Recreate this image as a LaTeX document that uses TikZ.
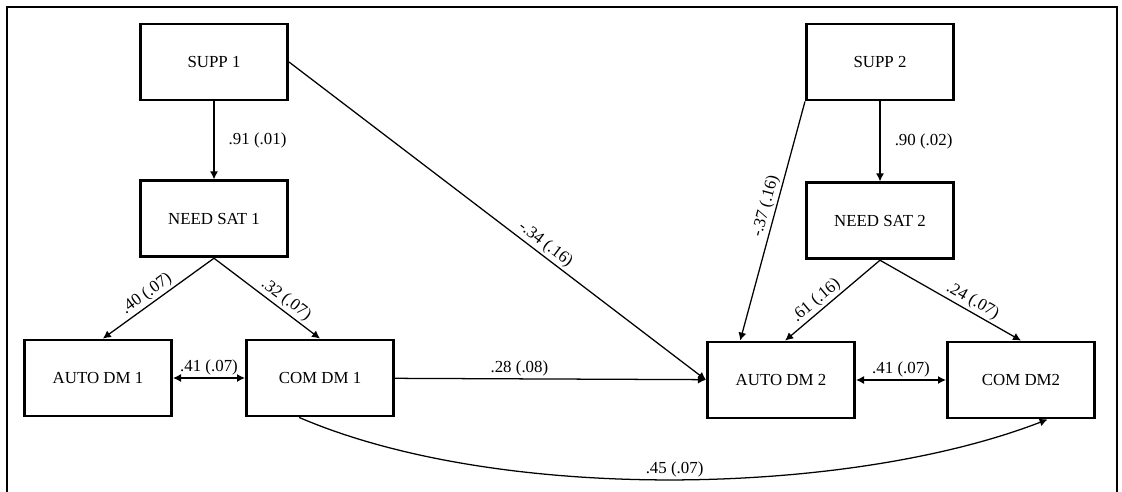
\documentclass[tikz,border=0pt]{standalone}
\usepackage{fontspec}
\setmainfont{Liberation Serif}
\usepackage{tikz}
\usetikzlibrary{arrows.meta, positioning}

\begin{document}
\begin{tikzpicture}[
  font=\fontsize{12}{14}\selectfont,
  box/.style={draw, line width=2pt, minimum width=3.68cm, minimum height=1.9cm,
              align=center, inner sep=3pt},
  arr/.style={-{Latex[length=2mm, width=2mm]}, line width=0.9pt},
  both/.style={{Latex[length=2mm, width=2mm]}-{Latex[length=2mm, width=2mm]}, line width=0.9pt},
  lab/.style={inner sep=1.5pt}
]
\useasboundingbox (0,0) rectangle (28.05,-12.3);
\draw[line width=1.3pt] (0.175,-12.3) |- (27.925,-0.175) -- (27.925,-12.3);

% time 1
\node[box] (supp1) at (5.35,-1.55) {SUPP 1};
\node[box, below=1.95cm of supp1] (need1) {NEED SAT 1};
\node[box] (auto1) at (2.45,-9.45) {AUTO DM 1};
\node[box, right=1.8cm of auto1] (com1) {COM DM 1};

% time 2
\node[box] (supp2) at (22.0,-1.55) {SUPP 2};
\node[box, below=2.0cm of supp2] (need2) {NEED SAT 2};
\node[box] (auto2) at (19.525,-9.5) {AUTO DM 2};
\node[box, right=2.25cm of auto2] (com2) {COM DM2};

\draw[arr] (supp1) -- node[lab, right=3mm] {.91 (.01)} (need1);
\draw[arr] (need1.south) -- node[lab, pos=0.55, above, sloped] {.40 (.07)} (auto1.83);
\draw[arr] (need1.south) -- node[lab, pos=0.62, above, sloped] {.32 (.07)} (com1.north);
\draw[both] (auto1) -- node[lab, above] {.41 (.07)} (com1);
\draw[arr] (supp1.east) -- node[lab, pos=0.6, above, sloped] {-.34 (.16)} (auto2.west);
\draw[arr] (com1) -- node[lab, pos=0.4, above] {.28 (.08)} (auto2);
\draw[arr] (com1.-118) .. controls (12.5,-12.6) and (21.25,-12.4) .. node[lab, pos=0.5, above] {.45 (.07)} (com2.-56);

\draw[arr] (supp2) -- node[lab, right=3mm] {.90 (.02)} (need2);
\draw[arr] (supp2.south west) -- node[lab, pos=0.45, above, sloped] {-.37 (.16)} (auto2.136);
\draw[arr] (need2.south) -- node[lab, pos=0.6, above, sloped] {.61 (.16)} (auto2.84);
\draw[arr] (need2.south) -- node[lab, pos=0.62, above, sloped] {.24 (.07)} (com2.north);
\draw[both] (auto2) -- node[lab, above] {.41 (.07)} (com2);
\end{tikzpicture}
\end{document}
